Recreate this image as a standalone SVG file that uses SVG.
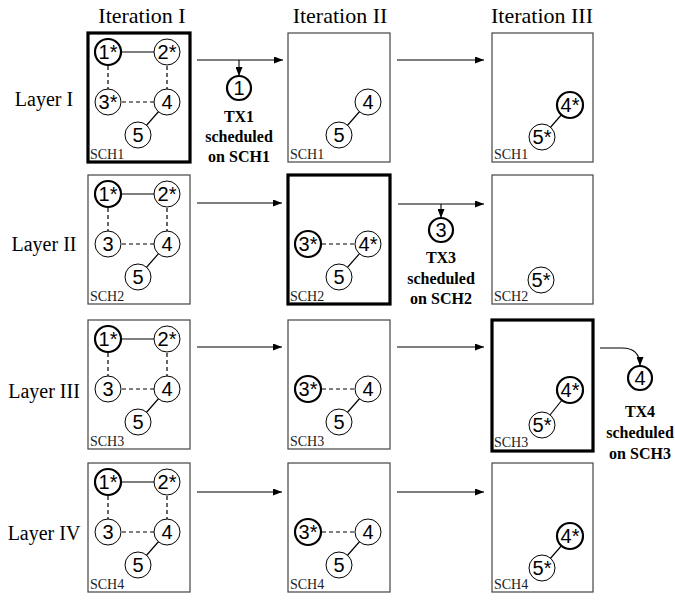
<svg xmlns="http://www.w3.org/2000/svg" width="675" height="600" viewBox="0 0 675 600">
<defs>
<marker id="ah" markerUnits="userSpaceOnUse" markerWidth="9" markerHeight="7" refX="9" refY="3.5" orient="auto">
<path d="M0,0 L9,3.5 L0,7 z" fill="#000"/>
</marker>
</defs>
<style>
.hdr{font-family:"Liberation Serif","Times New Roman",serif;font-size:22px;text-anchor:middle;fill:#000}
.lay{font-family:"Liberation Serif","Times New Roman",serif;font-size:20px;text-anchor:middle;fill:#000}
.sch{font-family:"Liberation Serif","Times New Roman",serif;font-size:14px;fill:#222}
.tx{font-family:"Liberation Serif","Times New Roman",serif;font-size:16px;font-weight:bold;text-anchor:middle;fill:#000}
.box{fill:#fff;stroke:#444;stroke-width:1.2}
.tbox{fill:#fff;stroke:#000;stroke-width:3.2}
.c{fill:#fff;stroke:#000;stroke-width:1}
.ct{fill:#fff;stroke:#000;stroke-width:2.2}
.n{font-family:"Liberation Sans",Arial,sans-serif;font-size:20px;text-anchor:middle;fill:#000}
.sl{stroke:#000;stroke-width:1.2;fill:none}
.dl{stroke:#000;stroke-width:1.2;fill:none;stroke-dasharray:4,3}
.ar{stroke:#000;stroke-width:1.1;fill:none;marker-end:url(#ah)}
</style>
<rect width="675" height="600" fill="#fff"/>
<g id="headers">
<text class="hdr" x="142" y="23">Iteration I</text>
<text class="hdr" x="340" y="23">Iteration II</text>
<text class="hdr" x="542" y="23">Iteration III</text>
<text class="lay" x="44" y="106">Layer I</text>
<text class="lay" x="44" y="251">Layer II</text>
<text class="lay" x="44" y="398">Layer III</text>
<text class="lay" x="44" y="540">Layer IV</text>
</g>
<g id="connectors">
<path class="ar" d="M197 60 H283"/>
<path class="ar" d="M397 60 H484"/>
<path class="ar" d="M239 60 V76"/>
<path class="ar" d="M197 203 H282"/>
<path class="ar" d="M398 204 H484"/>
<path class="ar" d="M441 204 V218"/>
<path class="ar" d="M197 347 H282"/>
<path class="ar" d="M397 347 H484"/>
<path class="ar" d="M600 348 H622 Q640 348 640 366"/>
<path class="ar" d="M197 492 H282"/>
<path class="ar" d="M397 492 H484"/>
</g>
<!-- Layer I -->
<g id="L1I1">
<rect class="tbox" x="88" y="33" width="102" height="129"/>
<text class="sch" x="90" y="159">SCH1</text>
<line class="sl" x1="108" y1="52" x2="167" y2="52"/>
<line class="dl" x1="108" y1="52" x2="108" y2="102"/>
<line class="dl" x1="167" y1="52" x2="167" y2="102"/>
<line class="dl" x1="108" y1="102" x2="167" y2="102"/>
<line class="sl" x1="167" y1="102" x2="138" y2="135"/>
<circle class="ct" cx="108" cy="52" r="13"/><text class="n" x="108" y="59">1*</text>
<circle class="c" cx="167" cy="52" r="13"/><text class="n" x="167" y="59">2*</text>
<circle class="c" cx="108" cy="102" r="13"/><text class="n" x="108" y="109">3*</text>
<circle class="c" cx="167" cy="102" r="13"/><text class="n" x="167" y="109">4</text>
<circle class="c" cx="138" cy="135" r="13"/><text class="n" x="138" y="142">5</text>
</g>
<g id="L1I2">
<rect class="box" x="288" y="33" width="102" height="129"/>
<text class="sch" x="290" y="159">SCH1</text>
<line class="sl" x1="368" y1="102" x2="339" y2="135"/>
<circle class="c" cx="368" cy="102" r="13"/><text class="n" x="368" y="109">4</text>
<circle class="c" cx="339" cy="135" r="13"/><text class="n" x="339" y="142">5</text>
</g>
<g id="L1I3">
<rect class="box" x="492" y="33" width="101" height="129"/>
<text class="sch" x="494" y="159">SCH1</text>
<line class="sl" x1="570" y1="105" x2="542" y2="137"/>
<circle class="ct" cx="570" cy="105" r="13"/><text class="n" x="570" y="112">4*</text>
<circle class="c" cx="542" cy="137" r="13"/><text class="n" x="542" y="144">5*</text>
</g>
<g id="TX1">
<circle class="ct" cx="239" cy="88" r="12" stroke-width="1.8"/><text class="n" x="239" y="95">1</text>
<text class="tx" x="239" y="122">TX1</text>
<text class="tx" x="239" y="142">scheduled</text>
<text class="tx" x="239" y="162">on SCH1</text>
</g>
<!-- Layer II -->
<g id="L2I1">
<rect class="box" x="88" y="175" width="102" height="129"/>
<text class="sch" x="90" y="301">SCH2</text>
<line class="sl" x1="108" y1="194" x2="167" y2="194"/>
<line class="dl" x1="108" y1="194" x2="108" y2="244"/>
<line class="dl" x1="167" y1="194" x2="167" y2="244"/>
<line class="dl" x1="108" y1="244" x2="167" y2="244"/>
<line class="sl" x1="167" y1="244" x2="138" y2="277"/>
<circle class="ct" cx="108" cy="194" r="13"/><text class="n" x="108" y="201">1*</text>
<circle class="c" cx="167" cy="194" r="13"/><text class="n" x="167" y="201">2*</text>
<circle class="c" cx="108" cy="244" r="13"/><text class="n" x="108" y="251">3</text>
<circle class="c" cx="167" cy="244" r="13"/><text class="n" x="167" y="251">4</text>
<circle class="c" cx="138" cy="277" r="13"/><text class="n" x="138" y="284">5</text>
</g>
<g id="L2I2">
<rect class="tbox" x="288" y="175" width="102" height="129"/>
<text class="sch" x="290" y="301">SCH2</text>
<line class="dl" x1="308" y1="244" x2="368" y2="244"/>
<line class="sl" x1="368" y1="244" x2="339" y2="277"/>
<circle class="ct" cx="308" cy="244" r="13"/><text class="n" x="308" y="251">3*</text>
<circle class="c" cx="368" cy="244" r="13"/><text class="n" x="368" y="251">4*</text>
<circle class="c" cx="339" cy="277" r="13"/><text class="n" x="339" y="284">5</text>
</g>
<g id="L2I3">
<rect class="box" x="492" y="175" width="101" height="129"/>
<text class="sch" x="494" y="301">SCH2</text>
<circle class="c" cx="541" cy="280" r="13"/><text class="n" x="541" y="287">5*</text>
</g>
<g id="TX3">
<circle class="ct" cx="441" cy="230" r="12" stroke-width="1.8"/><text class="n" x="441" y="237">3</text>
<text class="tx" x="441" y="263">TX3</text>
<text class="tx" x="441" y="284">scheduled</text>
<text class="tx" x="441" y="304">on SCH2</text>
</g>
<!-- Layer III -->
<g id="L3I1">
<rect class="box" x="88" y="320" width="102" height="129"/>
<text class="sch" x="90" y="446">SCH3</text>
<line class="sl" x1="108" y1="339" x2="167" y2="339"/>
<line class="dl" x1="108" y1="339" x2="108" y2="389"/>
<line class="dl" x1="167" y1="339" x2="167" y2="389"/>
<line class="dl" x1="108" y1="389" x2="167" y2="389"/>
<line class="sl" x1="167" y1="389" x2="138" y2="422"/>
<circle class="ct" cx="108" cy="339" r="13"/><text class="n" x="108" y="346">1*</text>
<circle class="c" cx="167" cy="339" r="13"/><text class="n" x="167" y="346">2*</text>
<circle class="c" cx="108" cy="389" r="13"/><text class="n" x="108" y="396">3</text>
<circle class="c" cx="167" cy="389" r="13"/><text class="n" x="167" y="396">4</text>
<circle class="c" cx="138" cy="422" r="13"/><text class="n" x="138" y="429">5</text>
</g>
<g id="L3I2">
<rect class="box" x="288" y="320" width="102" height="129"/>
<text class="sch" x="290" y="446">SCH3</text>
<line class="dl" x1="308" y1="389" x2="368" y2="389"/>
<line class="sl" x1="368" y1="389" x2="339" y2="422"/>
<circle class="ct" cx="308" cy="389" r="13"/><text class="n" x="308" y="396">3*</text>
<circle class="c" cx="368" cy="389" r="13"/><text class="n" x="368" y="396">4</text>
<circle class="c" cx="339" cy="422" r="13"/><text class="n" x="339" y="429">5</text>
</g>
<g id="L3I3">
<rect class="tbox" x="492" y="320" width="101" height="131"/>
<text class="sch" x="494" y="447">SCH3</text>
<line class="sl" x1="570" y1="390" x2="542" y2="425"/>
<circle class="ct" cx="570" cy="390" r="13"/><text class="n" x="570" y="397">4*</text>
<circle class="c" cx="542" cy="425" r="13"/><text class="n" x="542" y="432">5*</text>
</g>
<g id="TX4">
<circle class="ct" cx="640" cy="378" r="12" stroke-width="1.8"/><text class="n" x="640" y="385">4</text>
<text class="tx" x="640" y="417">TX4</text>
<text class="tx" x="640" y="438">scheduled</text>
<text class="tx" x="640" y="459">on SCH3</text>
</g>
<!-- Layer IV -->
<g id="L4I1">
<rect class="box" x="88" y="463" width="102" height="129"/>
<text class="sch" x="90" y="589">SCH4</text>
<line class="sl" x1="108" y1="482" x2="167" y2="482"/>
<line class="dl" x1="108" y1="482" x2="108" y2="532"/>
<line class="dl" x1="167" y1="482" x2="167" y2="532"/>
<line class="dl" x1="108" y1="532" x2="167" y2="532"/>
<line class="sl" x1="167" y1="532" x2="138" y2="565"/>
<circle class="ct" cx="108" cy="482" r="13"/><text class="n" x="108" y="489">1*</text>
<circle class="c" cx="167" cy="482" r="13"/><text class="n" x="167" y="489">2*</text>
<circle class="c" cx="108" cy="532" r="13"/><text class="n" x="108" y="539">3</text>
<circle class="c" cx="167" cy="532" r="13"/><text class="n" x="167" y="539">4</text>
<circle class="c" cx="138" cy="565" r="13"/><text class="n" x="138" y="572">5</text>
</g>
<g id="L4I2">
<rect class="box" x="288" y="463" width="102" height="129"/>
<text class="sch" x="290" y="589">SCH4</text>
<line class="dl" x1="308" y1="532" x2="368" y2="532"/>
<line class="sl" x1="368" y1="532" x2="339" y2="565"/>
<circle class="ct" cx="308" cy="532" r="13"/><text class="n" x="308" y="539">3*</text>
<circle class="c" cx="368" cy="532" r="13"/><text class="n" x="368" y="539">4</text>
<circle class="c" cx="339" cy="565" r="13"/><text class="n" x="339" y="572">5</text>
</g>
<g id="L4I3">
<rect class="box" x="492" y="463" width="101" height="129"/>
<text class="sch" x="494" y="589">SCH4</text>
<line class="sl" x1="570" y1="536" x2="542" y2="568"/>
<circle class="ct" cx="570" cy="536" r="13"/><text class="n" x="570" y="543">4*</text>
<circle class="c" cx="542" cy="568" r="13"/><text class="n" x="542" y="575">5*</text>
</g>
</svg>
